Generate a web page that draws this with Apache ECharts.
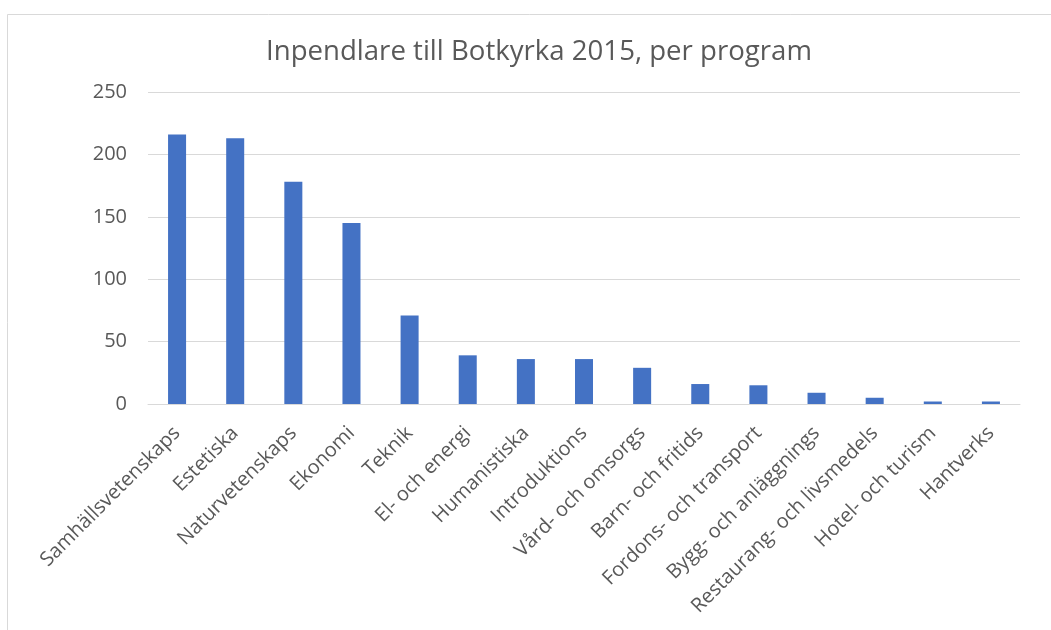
<!DOCTYPE html>
<html>
<head>
<meta charset="utf-8">
<script src="https://cdn.jsdelivr.net/npm/echarts@6/dist/echarts.min.js"></script>
<style>
html,body{margin:0;padding:0;background:#fff;}
#chart{width:1051px;height:630px;}
</style>
</head>
<body>
<div id="chart"></div>
<script>
const titleText = 'Inpendlare till Botkyrka 2015, per program';
const categories = ['Samhällsvetenskaps','Estetiska','Naturvetenskaps','Ekonomi','Teknik','El- och energi','Humanistiska','Introduktions','Vård- och omsorgs','Barn- och fritids','Fordons- och transport','Bygg- och anläggnings','Restaurang- och livsmedels','Hotel- och turism','Hantverks'];
const values = [216, 213, 178, 145, 71, 39, 36, 36, 29, 16, 15, 9, 5, 2, 2];
const yTicks = [0, 50, 100, 150, 200, 250];

const chart = echarts.init(document.getElementById('chart'));
chart.setOption({
  animation: false,
  backgroundColor: '#fff',
  graphic: [{
    type: 'rect', left: 5, top: 12,
    shape: {width: 1200, height: 800},
    style: {fill: 'none', stroke: '#d9d9d9', lineWidth: 1}, silent: true
  }],
  title: {
    text: titleText, left: 261, top: 33,
    textStyle: {fontFamily: 'Open Sans', fontSize: 27.6, fontWeight: 'normal', color: '#595959'}
  },
  grid: {left: 148, right: 31, top: 92, bottom: 226},
  xAxis: {
    type: 'category', data: categories,
    axisLine: {lineStyle: {color: '#d9d9d9', width: 1}},
    axisTick: {show: false},
    axisLabel: {rotate: 45, interval: 0, color: '#595959', fontFamily: 'Open Sans', fontSize: 20, margin: 26}
  },
  yAxis: {
    type: 'value', min: yTicks[0], max: yTicks[yTicks.length-1], interval: 50,
    axisLine: {show: false}, axisTick: {show: false},
    splitLine: {lineStyle: {color: '#d9d9d9', width: 1}},
    axisLabel: {color: '#595959', fontFamily: 'Open Sans', fontSize: 20, margin: 21}
  },
  series: [{
    type: 'bar', data: values, barWidth: '31%',
    itemStyle: {color: '#4472c4'}
  }]
});
</script>
</body>
</html>
